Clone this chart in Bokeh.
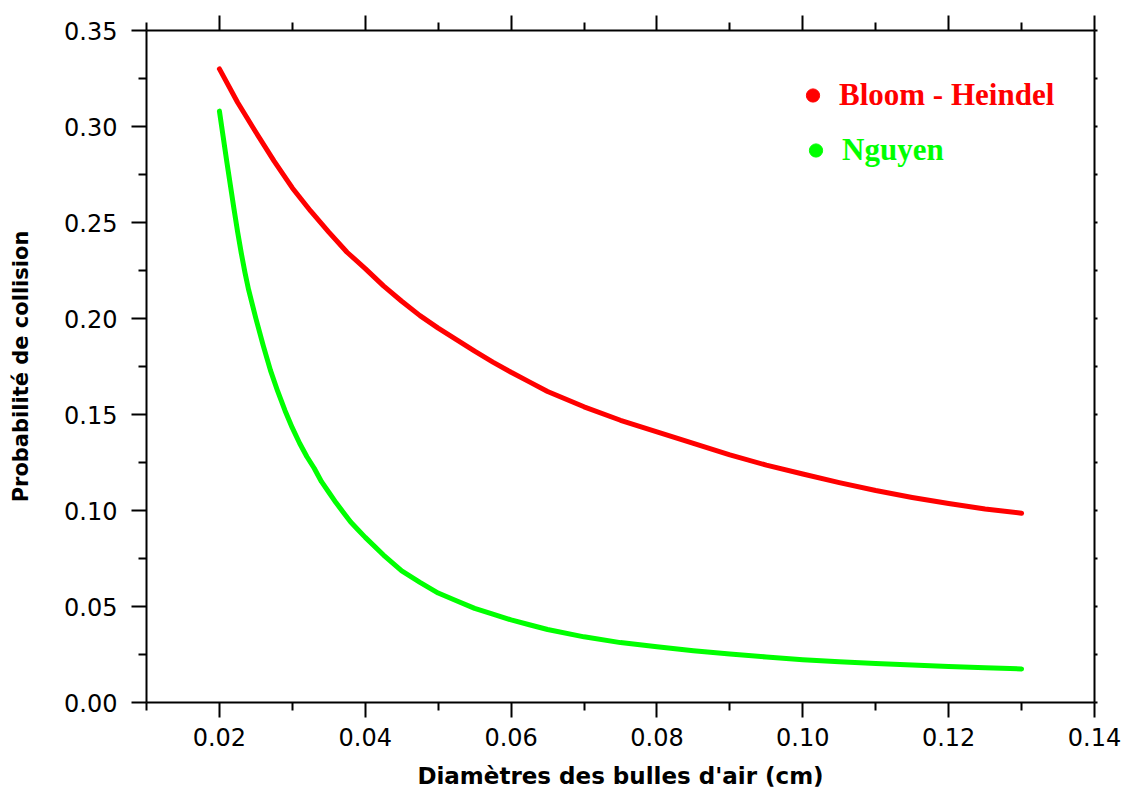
from bokeh.plotting import figure
from bokeh.models import (LinearAxis, FixedTicker, NumeralTickFormatter,
                          CustomJSTickFormatter, Range1d, Legend, LegendItem)
from bokeh.embed import file_html
from bokeh.resources import INLINE

# Bloom - Heindel collision probability vs bubble diameter (cm)
diameter_bh = [0.0200, 0.0225, 0.0250, 0.0275, 0.0300, 0.0325, 0.0350, 0.0375,
               0.0400, 0.0425, 0.0450, 0.0475, 0.0500, 0.0525, 0.0550, 0.0575,
               0.0600, 0.0625, 0.0650, 0.070, 0.075, 0.080, 0.085, 0.090,
               0.095, 0.100, 0.105, 0.110, 0.115, 0.120, 0.125, 0.130]
prob_bh = [0.330, 0.3125, 0.297, 0.282, 0.268, 0.256, 0.245, 0.2345,
           0.226, 0.217, 0.209, 0.2015, 0.195, 0.189, 0.183, 0.1773,
           0.172, 0.167, 0.162, 0.154, 0.147, 0.141, 0.135, 0.129,
           0.1236, 0.119, 0.1145, 0.1104, 0.1068, 0.1036, 0.1008, 0.0986]

# Nguyen collision probability vs bubble diameter (cm)
diameter_ng = [0.0200, 0.0205, 0.0210, 0.0215, 0.0220, 0.0225, 0.0230, 0.0235,
               0.0240, 0.0245, 0.0250, 0.026, 0.027, 0.028, 0.029, 0.030,
               0.031, 0.032, 0.033, 0.034, 0.035, 0.036, 0.037, 0.038, 0.039,
               0.040, 0.0425, 0.045, 0.0475, 0.050, 0.0525, 0.055, 0.0575,
               0.060, 0.0625, 0.065, 0.070, 0.075, 0.080, 0.085, 0.090, 0.095,
               0.100, 0.105, 0.110, 0.115, 0.120, 0.125, 0.130]
prob_ng = [0.308, 0.295, 0.282, 0.2695, 0.257, 0.245, 0.234, 0.224,
           0.215, 0.2075, 0.200, 0.186, 0.173, 0.162, 0.152, 0.143,
           0.135, 0.128, 0.122, 0.115, 0.1095, 0.104, 0.099, 0.094, 0.090,
           0.086, 0.0768, 0.0685, 0.0626, 0.057, 0.053, 0.049, 0.046,
           0.043, 0.0405, 0.038, 0.0342, 0.0312, 0.0290, 0.0270, 0.0253, 0.0237,
           0.0223, 0.0212, 0.0203, 0.0195, 0.0188, 0.0181, 0.0175]

series_names = ["Bloom - Heindel", "Nguyen"]
series_colors = ["#ff0000", "#00ff00"]

x_major = [0.02, 0.04, 0.06, 0.08, 0.10, 0.12, 0.14]
x_minor = [0.01, 0.03, 0.05, 0.07, 0.09, 0.11, 0.13]
y_major = [0.00, 0.05, 0.10, 0.15, 0.20, 0.25, 0.30, 0.35]
y_minor = [0.025, 0.075, 0.125, 0.175, 0.225, 0.275, 0.325]

x_label = "Diamètres des bulles d'air (cm)"
y_label = "Probabilité de collision"

p = figure(width=1122, height=796, output_backend="svg", toolbar_location=None,
           x_range=Range1d(0.01, 0.14), y_range=Range1d(0.0, 0.35),
           x_axis_location=None, y_axis_location=None,
           min_border_left=146, min_border_right=28,
           min_border_top=30, min_border_bottom=94)
p.outline_line_color = None
p.xgrid.visible = False
p.ygrid.visible = False
p.background_fill_color = "white"
p.border_fill_color = "white"

TICK_FONT = "DejaVu Sans"
LABEL_FONT = "DejaVu Sans"


def make_axis(ticker, formatter, tick_out, minor_out, show_labels):
    ax = LinearAxis(ticker=ticker, formatter=formatter)
    ax.axis_line_width = 2
    ax.axis_line_color = "black"
    ax.major_tick_line_width = 2
    ax.minor_tick_line_width = 2
    ax.major_tick_line_color = "black"
    ax.minor_tick_line_color = "black"
    ax.major_tick_in = 0
    ax.minor_tick_in = 0
    ax.major_tick_out = tick_out
    ax.minor_tick_out = minor_out
    if show_labels:
        ax.major_label_text_font = TICK_FONT
        ax.major_label_text_font_size = "24px"
        ax.major_label_text_color = "black"
    else:
        ax.major_label_text_font_size = "0px"
        ax.major_label_standoff = 0
    return ax


blank = CustomJSTickFormatter(code="return ''")
fmt = NumeralTickFormatter(format="0.00")

x_bottom = make_axis(FixedTicker(ticks=x_major, minor_ticks=x_minor), fmt, 15, 8, True)
x_bottom.major_label_standoff = 10
x_bottom.axis_label = x_label
x_bottom.axis_label_text_font = LABEL_FONT
x_bottom.axis_label_text_font_style = "bold"
x_bottom.axis_label_text_font_size = "23px"
x_bottom.axis_label_text_color = "black"
x_bottom.axis_label_standoff = 14
p.add_layout(x_bottom, "below")

x_top = make_axis(FixedTicker(ticks=x_major, minor_ticks=x_minor), blank, 15, 8, False)
p.add_layout(x_top, "above")

y_left = make_axis(FixedTicker(ticks=y_major, minor_ticks=y_minor), fmt, 15, 8, True)
y_left.major_label_standoff = 14
y_left.axis_label = y_label
y_left.axis_label_text_font = LABEL_FONT
y_left.axis_label_text_font_style = "bold"
y_left.axis_label_text_font_size = "21px"
y_left.axis_label_text_color = "black"
y_left.axis_label_standoff = 28
p.add_layout(y_left, "left")

y_right = make_axis(FixedTicker(ticks=y_major, minor_ticks=y_minor), blank, 3, 3, False)
p.add_layout(y_right, "right")

# curves
p.line(diameter_bh, prob_bh, line_color=series_colors[0], line_width=5,
       line_cap="round", line_join="round")
p.line(diameter_ng, prob_ng, line_color=series_colors[1], line_width=5,
       line_cap="round", line_join="round")

# legend: one box per series so each label takes its series colour;
# the dot renderers stay hidden and only supply the legend glyph
# (legend markers are sized at 0.4 x the glyph box, so a 33px box gives a 13px dot)
legend_spots = [(650, 589), (653, 534)]
legend_standoffs = [10, 10]
series_xy = [(diameter_bh, prob_bh), (diameter_ng, prob_ng)]
for name, color, spot, gap, (xs, ys) in zip(series_names, series_colors, legend_spots,
                                            legend_standoffs, series_xy):
    dot = p.scatter(x=xs[:1], y=ys[:1], marker="circle", size=13,
                    fill_color=color, line_color=color, visible=False)
    leg = Legend(items=[LegendItem(label=name, renderers=[dot])],
                 location=spot, padding=0, margin=0, spacing=0,
                 glyph_width=33, glyph_height=36, label_height=36,
                 label_standoff=gap,
                 label_text_font="Liberation Serif",
                 label_text_font_style="bold",
                 label_text_font_size="31px",
                 label_text_color=color,
                 inactive_fill_alpha=0,
                 border_line_color=None, background_fill_alpha=0)
    p.add_layout(leg, "center")

with open("out.html", "w") as f:
    f.write(file_html(p, INLINE))
